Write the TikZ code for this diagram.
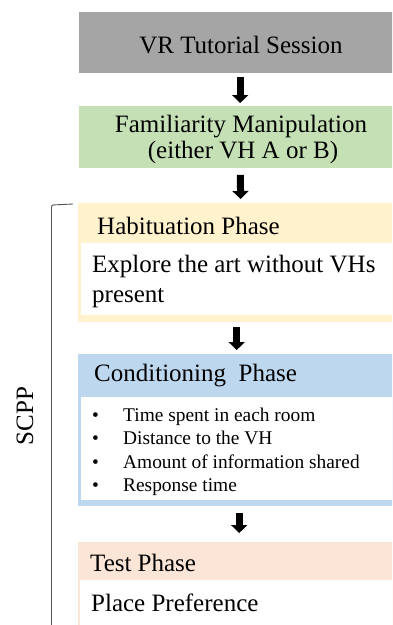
\documentclass[tikz,border=0pt]{standalone}
\usepackage{fontspec}
\setmainfont{Liberation Serif}
\usetikzlibrary{arrows.meta}

\definecolor{tutgray}{HTML}{A5A5A5}
\definecolor{famgreen}{HTML}{C5E0B4}
\definecolor{habyellow}{HTML}{FFF2CC}
\definecolor{condblue}{HTML}{BDD7EE}
\definecolor{testorange}{HTML}{FBE5D6}
\definecolor{bracketgray}{HTML}{555555}

\tikzset{
  panel/.style={draw=none, rectangle, inner sep=0pt, anchor=north west},
  innerpanel/.style={panel, fill=white},
  label/.style={inner sep=0pt, font=\fontsize{25}{30}\selectfont},
  smalllabel/.style={inner sep=0pt, font=\fontsize{19.4}{23.5}\selectfont},
  blockarrow/.style={line width=7pt, -{Triangle[width=16pt,length=8pt]}, black},
}

\begin{document}
\begin{tikzpicture}[x=1pt, y=-1pt]
\useasboundingbox (0,0) rectangle (392,625);
\clip (0,0) rectangle (392,625);

% tutorial session
\node[panel, fill=tutgray, minimum width=322pt, minimum height=60.5pt] (tut) at (79,12) {};
\node[label, anchor=base] (tuttext) at (241,53) {VR Tutorial Session};

% familiarity manipulation
\node[panel, fill=famgreen, minimum width=322pt, minimum height=62pt] (fam) at (79,106) {};
\node[label, anchor=base] (famtext1) at (241,132) {Familiarity Manipulation};
\node[label, anchor=base] (famtext2) at (243,158) {(either VH A or B)};

% habituation phase
\node[panel, fill=habyellow, minimum width=323pt, minimum height=119pt] (hab) at (78,203) {};
\node[innerpanel, minimum width=317pt, minimum height=72pt] (habbody) at (81,243) {};
\node[label, anchor=base west] (habhead) at (97,234) {Habituation Phase};
\node[label, anchor=base west] (habtext1) at (92,272) {Explore the art without VHs};
\node[label, anchor=base west] (habtext2) at (92,302) {present};

% conditioning phase
\node[panel, fill=condblue, minimum width=323pt, minimum height=152pt] (cond) at (78,354) {};
\node[innerpanel, minimum width=317pt, minimum height=103pt] (condbody) at (81,397) {};
\node[label, anchor=base west] (condhead) at (94,381) {Conditioning\ \ Phase};
\node[smalllabel, anchor=base west] (condlist) at (92,421)
  {\begin{tabular}[t]{@{}p{31pt}@{}l@{}}
     \textbullet & Time spent in each room\\
     \textbullet & Distance to the VH\\
     \textbullet & Amount of information shared\\
     \textbullet & Response time
   \end{tabular}};

% test phase
\node[panel, fill=testorange, minimum width=323pt, minimum height=100pt] (test) at (78,542) {};
\node[innerpanel, minimum width=318pt, minimum height=60pt] (testbody) at (80,580) {};
\node[label, anchor=base west] (testhead) at (90,571) {Test Phase};
\node[label, anchor=base west] (testtext) at (91,611) {Place Preference};

% flow arrows
\draw[blockarrow, shorten <=4.5pt, shorten >=3pt] (tut.south) -- (fam.north);
\draw[blockarrow, shorten <=6.5pt, shorten >=4pt] (fam.south) -- ([xshift=1pt]hab.north);
\draw[blockarrow, shorten <=5pt, shorten >=4pt] ([xshift=-3pt]hab.south) -- ([xshift=-3pt]cond.north);
\draw[blockarrow, shorten <=7pt, shorten >=9pt] ([xshift=-0.5pt]cond.south) -- ([xshift=-0.5pt]test.north);

% SCPP bracket
\coordinate (brtop) at (73,204);
\coordinate (brbottom) at (51.5,630);
\draw[bracketgray, line width=0.9pt, rounded corners=2pt] (brtop) -- (51.5,205) -- (brbottom);
\node[label, rotate=90] (scpp) at (25,416) {SCPP};
\end{tikzpicture}
\end{document}
